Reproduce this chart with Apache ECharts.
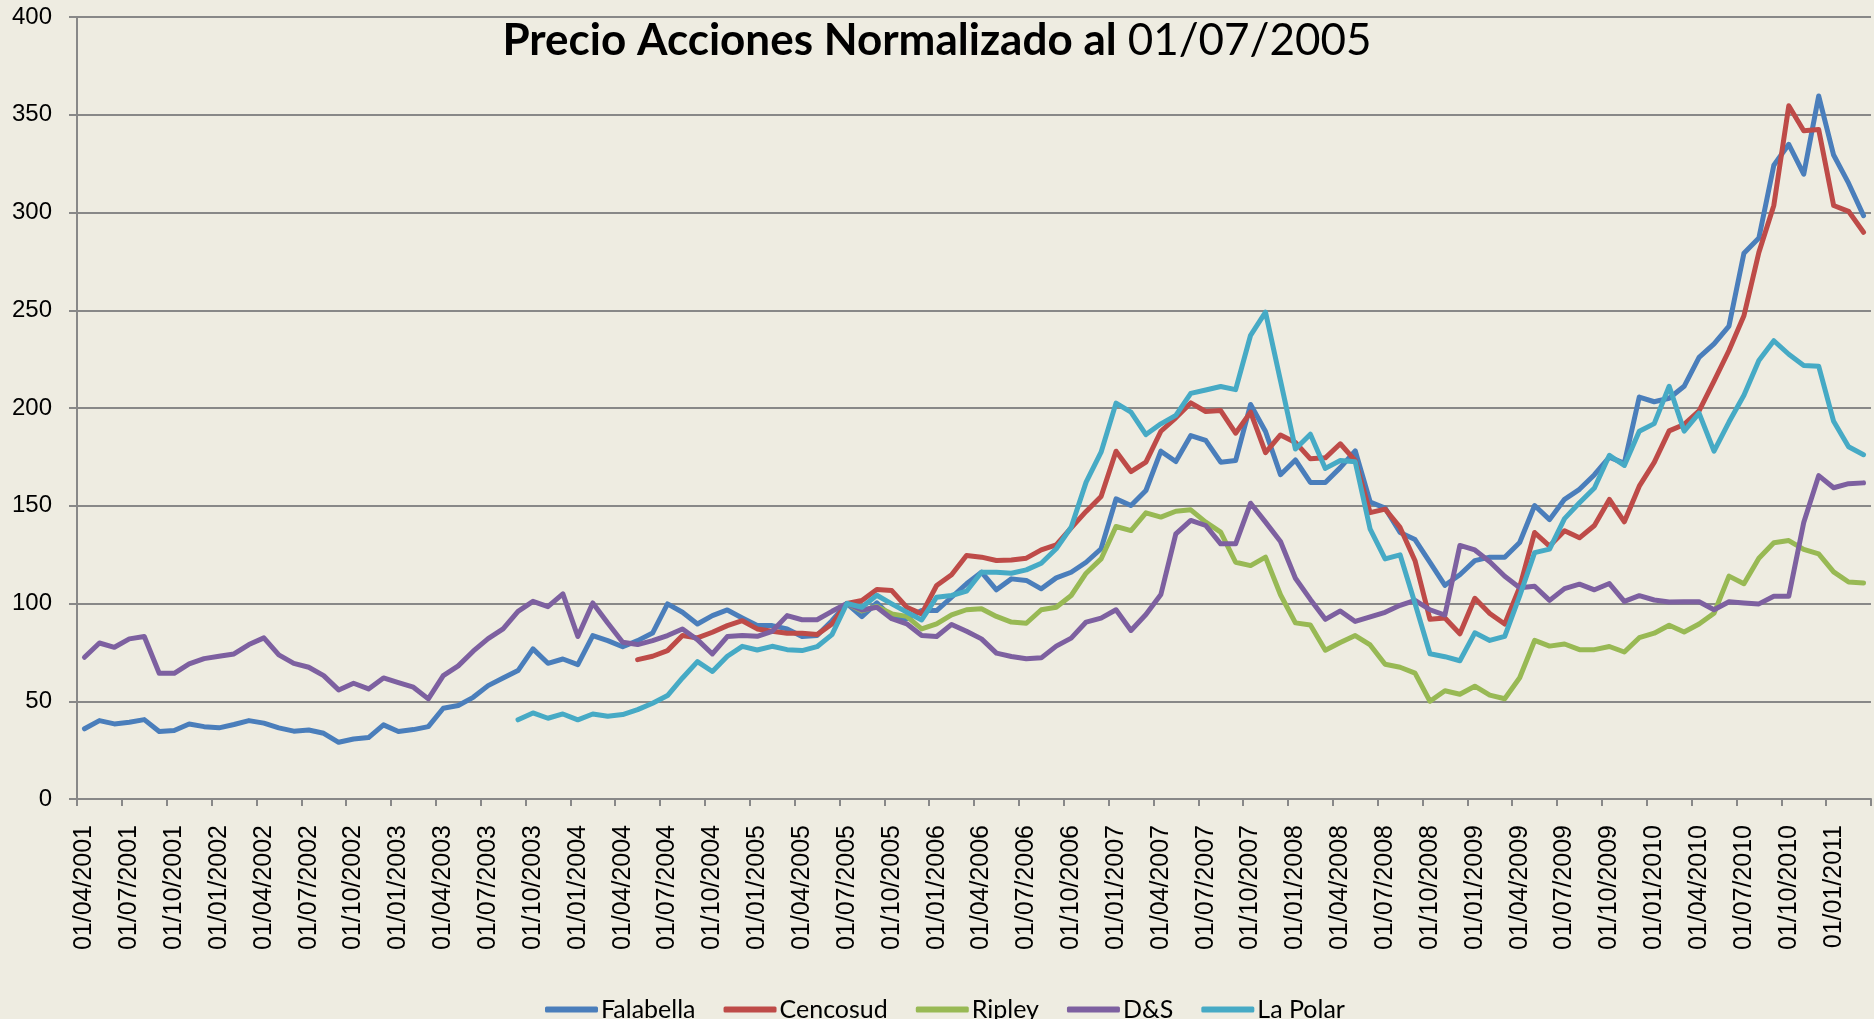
<!DOCTYPE html>
<html>
<head>
<meta charset="utf-8">
<title>Precio Acciones Normalizado</title>
<script src="https://cdn.jsdelivr.net/npm/echarts@6/dist/echarts.min.js"></script>
<style>
  html, body { margin: 0; padding: 0; background: #EEECE1; }
  #chart { width: 1874px; height: 1019px; }
</style>
</head>
<body>
<div id="chart"></div>
<script>
"use strict";

// meses: 01/04/2001 .. 01/03/2011
let months = [
  "01/04/2001","01/05/2001","01/06/2001","01/07/2001","01/08/2001","01/09/2001","01/10/2001","01/11/2001","01/12/2001",
  "01/01/2002","01/02/2002","01/03/2002","01/04/2002","01/05/2002","01/06/2002","01/07/2002","01/08/2002","01/09/2002","01/10/2002","01/11/2002","01/12/2002",
  "01/01/2003","01/02/2003","01/03/2003","01/04/2003","01/05/2003","01/06/2003","01/07/2003","01/08/2003","01/09/2003","01/10/2003","01/11/2003","01/12/2003",
  "01/01/2004","01/02/2004","01/03/2004","01/04/2004","01/05/2004","01/06/2004","01/07/2004","01/08/2004","01/09/2004","01/10/2004","01/11/2004","01/12/2004",
  "01/01/2005","01/02/2005","01/03/2005","01/04/2005","01/05/2005","01/06/2005","01/07/2005","01/08/2005","01/09/2005","01/10/2005","01/11/2005","01/12/2005",
  "01/01/2006","01/02/2006","01/03/2006","01/04/2006","01/05/2006","01/06/2006","01/07/2006","01/08/2006","01/09/2006","01/10/2006","01/11/2006","01/12/2006",
  "01/01/2007","01/02/2007","01/03/2007","01/04/2007","01/05/2007","01/06/2007","01/07/2007","01/08/2007","01/09/2007","01/10/2007","01/11/2007","01/12/2007",
  "01/01/2008","01/02/2008","01/03/2008","01/04/2008","01/05/2008","01/06/2008","01/07/2008","01/08/2008","01/09/2008","01/10/2008","01/11/2008","01/12/2008",
  "01/01/2009","01/02/2009","01/03/2009","01/04/2009","01/05/2009","01/06/2009","01/07/2009","01/08/2009","01/09/2009","01/10/2009","01/11/2009","01/12/2009",
  "01/01/2010","01/02/2010","01/03/2010","01/04/2010","01/05/2010","01/06/2010","01/07/2010","01/08/2010","01/09/2010","01/10/2010","01/11/2010","01/12/2010",
  "01/01/2011","01/02/2011","01/03/2011"
];

let falabella = [
  35.9, 40.1, 38.4, 39.3, 40.6, 34.5, 35.0, 38.4, 37.0,
  36.4, 38.1, 40.1, 38.8, 36.4, 34.7, 35.3, 33.6, 29.0, 30.7, 31.4, 37.9,
  34.5, 35.5, 37.0, 46.4, 47.8, 52.0, 58.0, 61.9, 65.7, 76.8, 69.4, 71.6,
  68.7, 83.6, 81.0, 77.9, 81.0, 84.9, 99.8, 95.5, 89.5, 93.8, 96.7, 92.6,
  88.7, 88.7, 87.0, 83.1, 83.6, 91.2, 100, 93.3, 100.3, 93.0, 92.2, 96.4,
  96.4, 103.2, 110.1, 116.0, 107.0, 112.6, 111.8, 107.5, 113.1, 116.0, 121.1, 128.0,
  153.5, 150.1, 157.8, 177.9, 172.6, 185.9, 183.4, 172.3, 173.1, 201.8, 188.0, 165.9,
  173.4, 161.9, 161.9, 169.5, 178.1, 151.9, 148.8, 136.3, 132.7, 121.0, 109.3, 114.7,
  121.9, 123.7, 123.7, 131.2, 150.1, 142.9, 153.3, 158.4, 165.9, 174.9, 171.7, 205.6,
  203.2, 205.0, 211.1, 225.9, 232.8, 241.9, 279.2, 286.9, 324.2, 334.9, 319.6, 359.6,
  329.4, 315.0, 298.4
];

let cencosud = [
  null, null, null, null, null, null, null, null, null,
  null, null, null, null, null, null, null, null, null, null, null, null,
  null, null, null, null, null, null, null, null, null, null, null, null,
  null, null, null, null, 71.3, 73.0, 75.9, 83.6, 82.4, 85.3, 88.7, 91.2,
  87.0, 85.8, 84.8, 84.8, 84.1, 89.5, 100, 101.5, 107.2, 106.6, 98.1, 94.7,
  109.2, 114.7, 124.6, 123.7, 122.0, 122.3, 123.2, 127.4, 130.0, 138.7, 147.1, 154.7,
  177.9, 167.5, 172.3, 188.1, 195.0, 202.6, 198.2, 198.7, 187.1, 197.9, 177.2, 186.2,
  182.4, 174.0, 174.5, 181.7, 173.1, 146.5, 148.3, 138.9, 121.9, 91.9, 92.6, 84.5,
  102.7, 94.9, 89.5, 108.4, 136.3, 129.4, 137.2, 133.6, 139.9, 153.2, 141.8, 160.0,
  172.2, 188.3, 191.6, 198.5, 213.8, 229.4, 247.2, 279.6, 303.6, 354.6, 341.8, 342.5,
  303.6, 300.6, 289.9
];

let ripley = [
  null, null, null, null, null, null, null, null, null,
  null, null, null, null, null, null, null, null, null, null, null, null,
  null, null, null, null, null, null, null, null, null, null, null, null,
  null, null, null, null, null, null, null, null, null, null, null, null,
  null, null, null, null, null, null, 100, 96.2, 98.5, 94.7, 93.4, 87.0,
  89.6, 94.2, 96.8, 97.3, 93.4, 90.5, 89.9, 96.8, 98.1, 104.1, 115.5, 122.8,
  139.4, 137.3, 146.4, 144.2, 147.2, 147.9, 141.6, 136.5, 121.1, 119.4, 123.7, 104.5,
  90.1, 89.0, 76.1, 80.0, 83.6, 78.8, 68.9, 67.4, 64.4, 50.0, 55.4, 53.6,
  57.7, 53.1, 51.3, 62.0, 81.1, 78.2, 79.3, 76.4, 76.4, 78.0, 75.2, 82.5,
  84.8, 88.9, 85.4, 89.5, 95.0, 114.0, 110.1, 123.1, 131.1, 132.2, 127.7, 125.4,
  116.2, 111.0, 110.5
];

let ds = [
  72.5, 79.8, 77.6, 81.9, 83.1, 64.3, 64.3, 69.1, 71.8,
  73.0, 74.2, 79.0, 82.4, 73.7, 69.4, 67.4, 63.1, 55.8, 59.2, 56.3, 61.9,
  59.5, 57.2, 51.2, 63.1, 68.1, 75.6, 82.0, 87.0, 96.0, 101.1, 98.4, 104.9,
  83.1, 100.3, 90.0, 80.2, 79.0, 81.0, 83.6, 87.0, 81.5, 74.2, 83.1, 83.6,
  83.2, 85.8, 93.8, 91.7, 91.7, 96.0, 100, 96.7, 98.1, 92.2, 89.6, 83.6,
  83.1, 89.3, 85.8, 81.9, 74.6, 72.9, 71.7, 72.2, 78.2, 82.3, 90.5, 92.5,
  96.8, 86.2, 94.4, 104.6, 135.6, 142.5, 139.9, 130.5, 130.5, 151.3, 141.6, 131.7,
  112.9, 102.1, 91.9, 96.2, 90.8, 93.2, 95.5, 99.1, 101.6, 96.8, 94.1, 129.7,
  127.4, 121.4, 113.9, 108.1, 108.8, 101.6, 107.6, 109.9, 107.0, 110.2, 101.1, 104.0,
  101.8, 100.8, 100.9, 100.9, 96.8, 100.9, 100.3, 99.8, 103.7, 103.7, 141.4, 165.4,
  159.2, 161.3, 161.7
];

let laPolar = [
  null, null, null, null, null, null, null, null, null,
  null, null, null, null, null, null, null, null, null, null, null, null,
  null, null, null, null, null, null, null, null, 40.5, 44.0, 41.3, 43.5,
  40.5, 43.5, 42.3, 43.2, 45.7, 49.0, 52.9, 61.9, 70.3, 65.2, 73.0, 78.1,
  76.2, 78.1, 76.4, 75.9, 77.9, 84.1, 100, 98.1, 104.2, 99.8, 95.6, 91.6,
  103.2, 104.1, 106.3, 116.0, 116.0, 115.5, 117.2, 120.6, 128.0, 139.0, 162.1, 177.4,
  202.5, 197.9, 186.4, 191.9, 196.2, 207.5, 209.2, 211.0, 209.4, 237.2, 249.0, 214.0,
  179.0, 186.6, 169.1, 173.1, 172.5, 138.0, 122.8, 124.9, 100.0, 74.3, 72.8, 70.7,
  85.0, 81.1, 83.2, 103.9, 126.0, 127.8, 143.4, 151.5, 159.1, 175.8, 170.6, 188.1,
  192.0, 211.1, 188.2, 197.4, 177.9, 192.8, 206.5, 224.3, 234.4, 227.5, 221.8, 221.4,
  193.2, 180.2, 176.1
];

let names = ["Falabella", "Cencosud", "Ripley", "D&S", "La Polar"];
let colors = ['#4A7EBB', '#BE4B48', '#98B954', '#7D60A0', '#46AAC5'];
let seriesData = [falabella, cencosud, ripley, ds, laPolar];

let gridColor = '#888888';

let myChart = echarts.init(document.getElementById('chart'));

let option = {
  backgroundColor: '#EEECE1',
  color: colors,
  animation: false,
  title: {
    text: '{b|Precio Acciones Normalizado al}{n|01/07/2005}',
    left: 'center',
    top: 14,
    textStyle: {
      rich: {
        b: { fontFamily: 'Lato', fontWeight: 'bold', fontSize: 44, color: '#000' },
        n: { fontFamily: 'Lato', fontWeight: 'normal', fontSize: 44, color: '#000', padding: [0, 0, 0, 11] },
      },
    },
  },
  legend: {
    data: names,
    left: 540,
    top: 992,
    icon: 'roundRect',
    itemWidth: 53,
    itemHeight: 6,
    itemGap: 28,
    textStyle: { fontFamily: 'Lato', fontSize: 25, color: '#000', padding: [0, 0, 0, -2] },
  },
  grid: { // 绘图区
    left: 77,
    right: 3,
    top: 17,
    bottom: 220,
  },
  xAxis: {
    type: 'category',
    data: months,
    boundaryGap: true,
    axisLine: { lineStyle: { color: gridColor, width: 2 } },
    axisTick: { show: true, interval: 2, length: 7, lineStyle: { color: gridColor, width: 2 } },
    axisLabel: {
      interval: 2,
      rotate: 90,
      margin: 26,
      fontFamily: 'Liberation Sans',
      fontSize: 25,
      color: '#000',
    },
    splitLine: { show: false },
  },
  yAxis: {
    type: 'value',
    min: 0,
    max: 400,
    interval: 50,
    axisLine: { show: true, lineStyle: { color: gridColor, width: 2 } },
    axisTick: { show: true, length: 8, lineStyle: { color: gridColor, width: 2 } },
    axisLabel: { margin: 25, fontFamily: 'Liberation Sans', fontSize: 24, color: '#000' },
    splitLine: { show: true, lineStyle: { color: gridColor, width: 2 } },
  },
  series: names.map(function (name, k) {
    return {
      name: name,
      type: 'line',
      data: seriesData[k],
      symbol: 'none',
      connectNulls: false,
      lineStyle: { width: 5, color: colors[k], cap: 'round', join: 'round' },
      itemStyle: { color: colors[k] },
    };
  }),
};

myChart.setOption(option);
</script>
</body>
</html>
